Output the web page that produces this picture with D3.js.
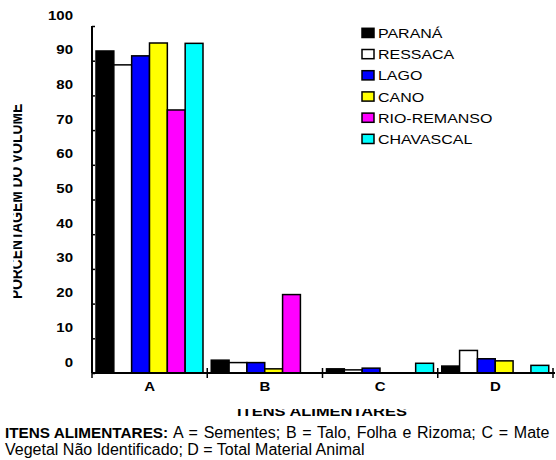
<!DOCTYPE html>
<html><head><meta charset="utf-8">
<script src="https://cdn.jsdelivr.net/npm/d3@7"></script>
<style>body{margin:0;background:#fff;overflow:hidden}svg{display:block;font-family:"Liberation Sans",Arial,sans-serif}</style>
</head><body>
<script>
const categories = ["A","B","C","D"];
const series = ["PARANÁ","RESSACA","LAGO","CANO","RIO-REMANSO","CHAVASCAL"];
const colors = ["#000000","#ffffff","#0000ff","#ffff00","#ff00ff","#00ffff"];
const parana    = [92.8, 3.7, 1.2, 2.0];
const ressaca   = [88.8, 3.0, 0.9, 6.5];
const lago      = [91.4, 3.0, 1.4, 4.1];
const cano      = [95.1, 1.2, 0.0, 3.5];
const rioRemanso= [75.8, 22.6, 0.0, 0.0];
const chavascal = [95.0, 0.0, 2.8, 2.2];
const values = [parana, ressaca, lago, cano, rioRemanso, chavascal];
const yTicks = [0,10,20,30,40,50,60,70,80,90,100];

const W=556,H=460,SX=1.2;
const svg=d3.select("body").append("svg").attr("width",W).attr("height",H);
const x=d3.scaleBand().domain(categories).range([92,553]);
const x1=d3.scaleBand().domain(series).range([4,111]);
const y=d3.scaleLinear().domain([0,100]).range([373,26]);
const FF="'Liberation Sans',Arial,sans-serif";

// bars
series.forEach((s,i)=>{
  svg.append("g").selectAll("rect").data(categories.map((c,j)=>({c,v:values[i][j]})).filter(d=>d.v>0))
    .join("rect")
    .attr("x",d=>x(d.c)+x1(s))
    .attr("y",d=>y(d.v))
    .attr("width",x1.bandwidth())
    .attr("height",d=>y(0)-y(d.v))
    .attr("fill",colors[i]).attr("stroke","#000").attr("stroke-width",1.5);
});

// y axis
const ya=svg.append("g").attr("transform","translate(92,0)")
  .call(d3.axisLeft(y).tickValues(yTicks).tickSize(7));
ya.select(".domain").attr("d","M0,26V373").attr("stroke-width",2);
ya.selectAll(".tick line").attr("x2",3).attr("stroke-width",1.5);
ya.selectAll(".tick text").attr("x",0).attr("dy",null)
  .attr("transform",`translate(-19,-7) scale(${SX},1)`)
  .attr("font-size",12.5).attr("font-weight","bold")
  .attr("font-family",FF).attr("fill","#000");

// x axis
const xa=svg.append("g").attr("transform","translate(0,373)")
  .call(d3.axisBottom(x).tickSize(0));
xa.select(".domain").attr("d","M92,0H555").attr("stroke-width",2);
xa.selectAll(".tick text").attr("y",0).attr("dy",null)
  .attr("transform",`translate(0,18) scale(${SX},1)`)
  .attr("font-size",12.5).attr("font-weight","bold")
  .attr("font-family",FF).attr("fill","#000");
const bounds=[...categories.map(c=>x(c)),x.range()[1]];
svg.append("g").selectAll("line").data(bounds).join("line")
  .attr("x1",d=>d).attr("x2",d=>d).attr("y1",368).attr("y2",378)
  .attr("stroke","#000").attr("stroke-width",1.5);

// legend
const lg=svg.append("g");
series.forEach((s,i)=>{
  const yy=28.3+i*21.2;
  lg.append("rect").attr("x",362).attr("y",yy).attr("width",12).attr("height",9.2)
    .attr("fill",colors[i]).attr("stroke","#000").attr("stroke-width",1.5);
  lg.append("text").attr("transform",`translate(378,${yy+9.6}) scale(${SX},1)`)
    .attr("font-size",13.3).text(s);
});

// clipped titles
const defs=svg.append("defs");
defs.append("clipPath").attr("id","cy").append("rect").attr("x",13.4).attr("y",0).attr("width",40).attr("height",H);
defs.append("clipPath").attr("id","cx").append("rect").attr("x",0).attr("y",409).attr("width",W).attr("height",12);
svg.append("g").attr("clip-path","url(#cy)").append("text")
  .attr("transform",`translate(21.8,201.5) scale(${SX},1) rotate(-90)`).attr("text-anchor","middle")
  .attr("font-size",13.8).attr("font-weight","bold").text("PORCENTAGEM  DO VOLUME");
svg.append("g").attr("clip-path","url(#cx)").append("text")
  .attr("transform",`translate(322,416) scale(${SX},1)`).attr("text-anchor","middle")
  .attr("font-size",13.7).attr("font-weight","bold").text("ITENS ALIMENTARES");

// caption
const cap=svg.append("text").attr("x",5).attr("y",438).attr("font-size",16).attr("word-spacing",1.3);
cap.append("tspan").attr("font-weight","bold").attr("font-size",15.3).attr("word-spacing",0).text("ITENS ALIMENTARES:");
cap.append("tspan").text(" A = Sementes; B = Talo, Folha e Rizoma; C = Mate");
svg.append("text").attr("x",5).attr("y",455).attr("font-size",16).text("Vegetal Não Identificado; D = Total Material Animal");
</script>
</body></html>
